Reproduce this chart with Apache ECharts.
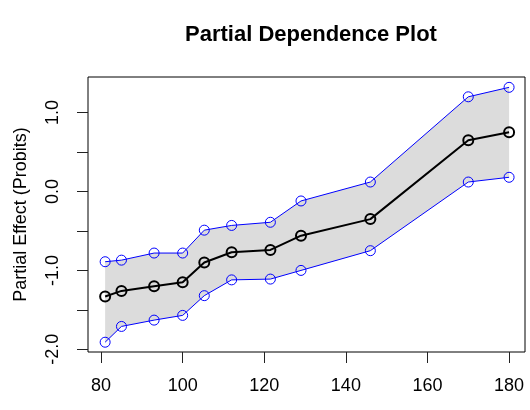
<!DOCTYPE html>
<html>
<head>
<meta charset="utf-8">
<script src="https://cdn.jsdelivr.net/npm/echarts@6/dist/echarts.min.js"></script>
<style>
  html, body { margin: 0; padding: 0; background: #fff; }
  #main { width: 530px; height: 410px; }
</style>
</head>
<body>
<div id="main"></div>
<script>
// values
var xVals     = [81, 85, 93, 100, 105.3, 112, 121.5, 129, 146, 170, 180];
var meanVals  = [-1.33, -1.26, -1.20, -1.15, -0.90, -0.77, -0.74, -0.56, -0.35, 0.65, 0.75];
var upperVals = [-0.89, -0.87, -0.78, -0.78, -0.49, -0.43, -0.39, -0.12, 0.12, 1.20, 1.32];
var lowerVals = [-1.91, -1.71, -1.63, -1.57, -1.32, -1.12, -1.11, -1.00, -0.75, 0.12, 0.18];
var xTicks  = [80, 100, 120, 140, 160, 180];
var yTicks  = [-2, -1.5, -1, -0.5, 0, 0.5, 1];
var yLabels = [-2, -1, 0, 1];

function pairs(ys) {
  var out = [];
  for (var i = 0; i < xVals.length; i++) out.push([xVals[i], ys[i]]);
  return out;
}
// rows of [x, lower, upper] for the shaded band
var bandRows = [];
for (var i = 0; i < xVals.length; i++) bandRows.push([xVals[i], lowerVals[i], upperVals[i]]);

// one polygon: along the upper bound, back along the lower bound
function renderBand(params, api) {
  if (params.dataIndex !== 0) return null;
  var pts = [];
  for (var i = 0; i < bandRows.length; i++) pts.push(api.coord([bandRows[i][0], bandRows[i][2]]));
  for (var j = bandRows.length - 1; j >= 0; j--) pts.push(api.coord([bandRows[j][0], bandRows[j][1]]));
  return {
    type: 'polygon',
    shape: { points: pts },
    style: { fill: '#dcdcdc', stroke: null }
  };
}

var font = 'Liberation Sans, Arial, Helvetica, sans-serif';
var chart = echarts.init(document.getElementById('main'));
chart.setOption({
  animation: false,
  title: {
    text: 'Partial Dependence Plot',
    left: 306,
    textAlign: 'center',
    top: 19,
    textStyle: { fontFamily: font, fontSize: 22, fontWeight: 'bold', color: '#000' }
  },
  grid: {
    left: 88, right: 5, top: 77, bottom: 58,
    show: true, borderColor: '#000', borderWidth: 1,
    containLabel: false, outerBoundsMode: 'none'
  },
  xAxis: {
    type: 'value',
    min: 76.8, max: 183.9,
    axisLine: { show: false, onZero: false },
    splitLine: { show: false },
    axisTick: { customValues: xTicks, length: 11, lineStyle: { color: '#222' } },
    axisLabel: {
      customValues: xTicks, margin: 25, color: '#000',
      fontFamily: font, fontSize: 18
    }
  },
  yAxis: {
    type: 'value',
    min: -2.034, max: 1.451,
    name: 'Partial Effect (Probits)',
    nameLocation: 'middle',
    nameRotate: 90,
    nameGap: 58,
    nameTextStyle: { fontFamily: font, fontSize: 18, color: '#000' },
    axisLine: { show: false, onZero: false },
    splitLine: { show: false },
    axisTick: { customValues: yTicks, length: 11, lineStyle: { color: '#222' } },
    axisLabel: {
      customValues: yLabels, rotate: 90, margin: 26, color: '#000',
      fontFamily: font, fontSize: 18,
      formatter: function (v) { return v.toFixed(1); }
    }
  },
  series: [
    {
      name: 'band', type: 'custom', silent: true,
      renderItem: renderBand,
      encode: { x: 0, y: [1, 2] },
      data: bandRows
    },
    {
      name: 'upper', type: 'line', data: pairs(upperVals),
      symbol: 'circle', symbolSize: 10,
      lineStyle: { color: '#0000ff', width: 1 },
      itemStyle: { color: 'transparent', borderColor: '#0000ff', borderWidth: 1 }
    },
    {
      name: 'lower', type: 'line', data: pairs(lowerVals),
      symbol: 'circle', symbolSize: 10,
      lineStyle: { color: '#0000ff', width: 1 },
      itemStyle: { color: 'transparent', borderColor: '#0000ff', borderWidth: 1 }
    },
    {
      name: 'mean', type: 'line', data: pairs(meanVals),
      symbol: 'circle', symbolSize: 10,
      lineStyle: { color: '#000', width: 2 },
      itemStyle: { color: 'transparent', borderColor: '#000', borderWidth: 2 }
    }
  ]
});
</script>
</body>
</html>
